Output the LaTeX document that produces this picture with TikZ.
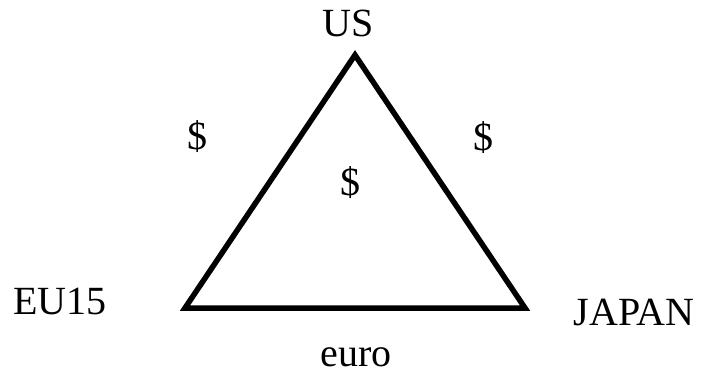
\documentclass[tikz,border=0pt]{standalone}
\usepackage{fontspec}
\setmainfont{Liberation Serif}
\begin{document}
\begin{tikzpicture}[x=1pt,y=-1pt,
  lbl/.style={anchor=base,inner sep=0pt,font=\fontsize{40}{48}\selectfont},
  edge/.style={line width=5.5pt,line join=miter}]
\useasboundingbox (0,0) rectangle (705,377);
\coordinate (us) at (355,55);
\coordinate (eu) at (185,308);
\coordinate (jp) at (525,308);
\draw[edge] (us) -- (jp) -- (eu) -- cycle;
\node[lbl] (tUS) at (348,37) {US};
\node[lbl] (tEU) at (60,314) {EU15};
\node[lbl] (tJP) at (634,325) {JAPAN};
\node[lbl] (tEuro) at (356,366) {euro};
\node[lbl] (d1) at (197,150) {\$};
\node[lbl] (d2) at (483,151) {\$};
\node[lbl] (d3) at (350,196) {\$};
\end{tikzpicture}
\end{document}
